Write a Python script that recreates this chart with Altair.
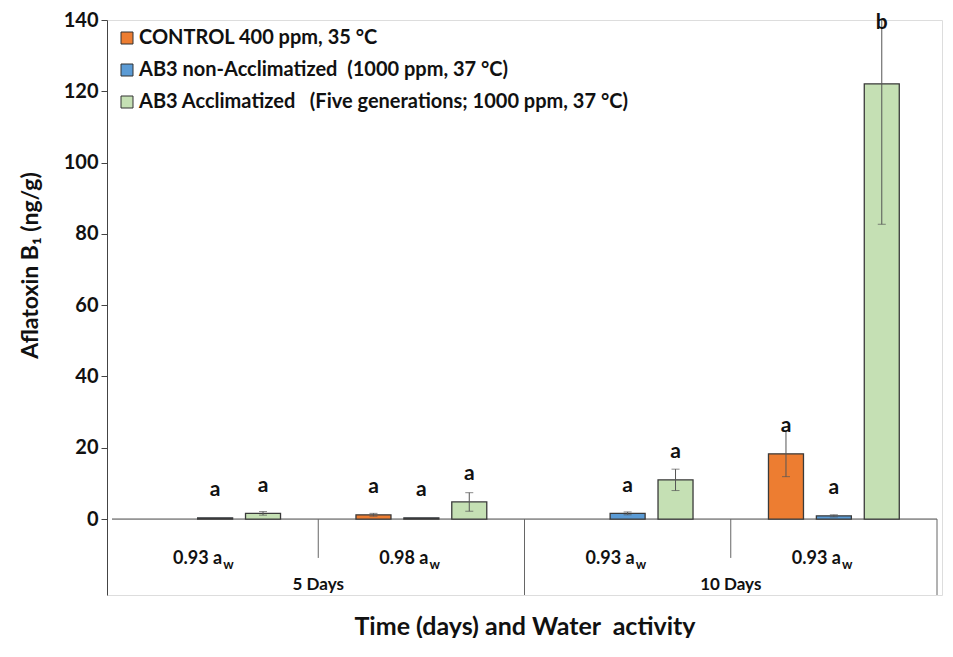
import altair as alt
import pandas as pd
import numpy as np

# ---- data ----
sub_labels = ["0.93 a", "0.98 a", "0.93 a", "0.93 a"]
day_labels = ["5 Days", "10 Days"]
series = [
    "\u00a0\u00a0CONTROL 400 ppm, 35 °C",
    "AB3 non-Acclimatized\u00a0\u00a0(1000 ppm, 37 °C)",
    "AB3 Acclimatized\u00a0\u00a0\u00a0(Five generations; 1000 ppm, 37 °C)",
]
colors = ["#ED7D31", "#5B9BD5", "#C5E0B4"]

control = [None, 1.2, None, 18.3]
control_err = [None, 0.4, None, 6.4]
control_letters = [None, "a", None, "a"]

nonacc = [0.35, 0.35, 1.6, 0.9]
nonacc_err = [0.0, 0.0, 0.4, 0.3]
nonacc_letters = ["a", "a", "a", "a"]

acc = [1.6, 4.8, 11.0, 122.1]
acc_err = [0.5, 2.6, 3.0, 39.4]
acc_letters = ["a", "a", "a", "b"]

y_ticks = [0, 20, 40, 60, 80, 100, 120, 140]

# ---- layout constants ----
YMAX = 140
YMIN = -21.3
SUB_Y = -10.9       # depth of the minor category separators
W, H = 835, 575
FONT = "Lato"
SLOT = 49 / 211.0   # spacing of bars inside a group (in group units)

rows = []
for k, (vals, errs, lets) in enumerate([(control, control_err, control_letters),
                                        (nonacc, nonacc_err, nonacc_letters),
                                        (acc, acc_err, acc_letters)]):
    for g in range(4):
        v = vals[g]
        if v is None:
            continue
        rows.append(dict(series=series[k], x=g + 0.5 + (k - 1) * SLOT,
                         value=v, err=errs[g], letter=lets[g]))
df = pd.DataFrame(rows)
df["lo"] = df["value"] - df["err"]
df["hi_raw"] = df["value"] + df["err"]
df["hi"] = np.minimum(df["hi_raw"], YMAX)
df["clipped"] = df["hi_raw"] > YMAX
df["ly"] = np.where(df["clipped"], YMAX - 0.8, df["value"] + 7.8)

err_df = df[df["err"] > 0]
caps = pd.concat([
    err_df[["x"]].assign(cy=err_df["lo"]),
    err_df[~err_df["clipped"]][["x"]].assign(cy=err_df[~err_df["clipped"]]["hi"]),
])

xscale = alt.Scale(domain=[0, 4], nice=False, zero=False)
yscale = alt.Scale(domain=[YMIN, YMAX], nice=False, zero=False)
xaxis = alt.Axis(title="Time (days) and Water\u00a0\u00a0activity", labels=False, ticks=False,
                 domain=False, grid=False, titleFont=FONT, titleFontSize=25,
                 titleFontWeight="bold", titleColor="#111", titlePadding=19)
yaxis = alt.Axis(title="Aflatoxin B\u2081 (ng/g)", values=y_ticks, grid=False,
                 tickSize=6, tickColor="#444", domainColor="#444", labelFont=FONT,
                 labelFontSize=20, labelFontWeight="bold", labelColor="#111",
                 labelPadding=3, titleFont=FONT, titleFontSize=23, titleFontWeight="bold",
                 titleColor="#111", titleX=-77, titleY=245, titleBaseline="middle")


def X(field):
    return alt.X(field, type="quantitative", scale=xscale, axis=xaxis)


def Y(field):
    return alt.Y(field, type="quantitative", scale=yscale, axis=yaxis)


bars = alt.Chart(df).mark_bar(size=35, stroke="#3a3a3a", strokeWidth=1.3).encode(
    x=X("x"), y=Y("value"), y2=alt.datum(0),
    color=alt.Color("series:N", scale=alt.Scale(domain=series, range=colors),
                    legend=alt.Legend(title=None, orient="none", legendX=10, legendY=8,
                                      symbolType="square", symbolSize=144,
                                      symbolStrokeColor="#333", symbolStrokeWidth=1,
                                      labelFont=FONT, labelFontSize=20, labelFontWeight="bold",
                                      labelColor="#111", rowPadding=12, labelOffset=2,
                                      padding=0, labelLimit=800)),
)

errs = alt.Chart(err_df).mark_rule(color="#555", strokeWidth=1).encode(
    x=X("x"), y=Y("lo"), y2="hi")

cap_marks = alt.Chart(caps).mark_tick(orient="horizontal", size=8, thickness=1, color="#555").encode(
    x=X("x"), y=Y("cy"))

letters = alt.Chart(df).mark_text(font=FONT, fontSize=21, fontWeight="bold", color="#111",
                                  baseline="middle").encode(
    x=X("x"), y=Y("ly"), text="letter:N")

base_df = pd.DataFrame({"x": [0], "x2": [4], "y": [0]})
zero_line = alt.Chart(base_df).mark_rule(color="#444", strokeWidth=1).encode(
    x=X("x"), x2="x2", y=Y("y"))

sep_df = pd.DataFrame({"x": [1, 2, 3, 4], "y": [0, 0, 0, 0],
                       "y2": [SUB_Y, YMIN, SUB_Y, YMIN]})
seps = alt.Chart(sep_df).mark_rule(color="#666", strokeWidth=1).encode(
    x=X("x"), y=Y("y"), y2="y2")

cat_df = pd.DataFrame({"x": [g + 0.5 for g in range(4)], "y": [-12.6] * 4,
                       "label": sub_labels, "sub": ["w"] * 4})
cat_main = alt.Chart(cat_df).mark_text(font=FONT, fontSize=18, fontWeight="bold", color="#111",
                                       align="right", baseline="alphabetic", dx=7).encode(
    x=X("x"), y=Y("y"), text="label:N")
cat_sub = alt.Chart(cat_df).mark_text(font=FONT, fontSize=13, fontWeight="bold", color="#111",
                                      align="left", baseline="alphabetic", dx=8, dy=5).encode(
    x=X("x"), y=Y("y"), text="sub:N")

day_df = pd.DataFrame({"x": [1, 3], "y": [-19.9, -19.9], "label": day_labels})
day_text = alt.Chart(day_df).mark_text(font=FONT, fontSize=17, fontWeight="bold", color="#111",
                                       align="center", baseline="alphabetic").encode(
    x=X("x"), y=Y("y"), text="label:N")

chart = alt.layer(zero_line, seps, bars, errs, cap_marks, letters, cat_main, cat_sub, day_text).properties(
    width=W, height=H,
    autosize=alt.AutoSizeParams(type="none"),
    padding={"left": 99, "top": 12, "right": 1, "bottom": 43},
).configure_view(stroke=None).configure(background="white")

chart.save("out.html", embed_options={"renderer": "svg", "actions": False})
